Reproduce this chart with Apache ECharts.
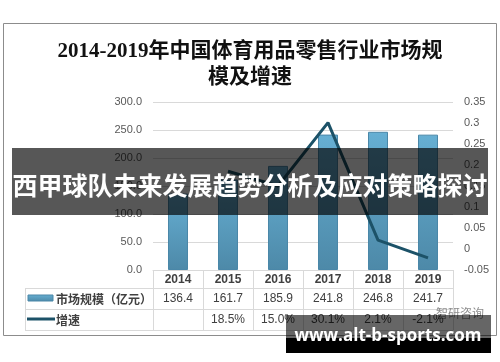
<!DOCTYPE html>
<html><head><meta charset="utf-8">
<script src="https://cdn.jsdelivr.net/npm/echarts@6/dist/echarts.min.js"></script>
<style>html,body{margin:0;padding:0;background:#fff}#c{width:500px;height:362px}</style>
</head><body><div id="c"></div>
<script>
const years = ['2014','2015','2016','2017','2018','2019'];
const marketSize = [136.4, 161.7, 185.9, 241.8, 246.8, 241.7];
const growth = [null, 0.185, 0.150, 0.301, 0.021, -0.021];
const marketLabels = ['136.4','161.7','185.9','241.8','246.8','241.7'];
const growthLabels = ['', '18.5%', '15.0%', '30.1%', '2.1%', '-2.1%'];
const seriesNames = ['市场规模（亿元）', '增速'];
const titleText = '2014-2019年中国体育用品零售行业市场规\n模及增速';
const bannerText = '西甲球队未来发展趋势分析及应对策略探讨';
const watermarkText = 'www.alt-b-sports.com';

const chart = echarts.init(document.getElementById('c'), null, {renderer:'canvas'});
const tableAxisBase = {
  type:'category', position:'bottom', gridIndex:0,
  axisLine:{show:false}, axisTick:{show:false}, splitLine:{show:false},
  axisLabel:{margin:4, fontSize:12, color:'#404040', fontFamily:'Liberation Sans, Noto Sans CJK SC'}
};
const lineColor = '#1c5268';
const gl = '#d9d9d9';
chart.setOption({
  animation:false,
  title:{
    text:titleText, left:'center', top:34,
    textStyle:{fontSize:21, fontWeight:'bold', lineHeight:26, color:'#111',
      fontFamily:'Liberation Serif, Noto Sans CJK SC'}
  },
  grid:{left:153, right:47, top:102, bottom:92},
  xAxis:[
    {type:'category', data:years, position:'bottom',
      axisLine:{show:true, lineStyle:{color:gl}},
      axisTick:{show:true, length:60, inside:false, lineStyle:{color:gl}},
      axisLabel:{margin:4, fontSize:12, fontWeight:'bold', color:'#404040', fontFamily:'Liberation Sans, Noto Sans CJK SC'}},
    Object.assign({}, tableAxisBase, {data:marketLabels, offset:19}),
    Object.assign({}, tableAxisBase, {data:growthLabels, offset:40})
  ],
  yAxis:[
    {type:'value', min:0, max:300, interval:50,
      axisLine:{show:false}, axisTick:{show:false},
      splitLine:{lineStyle:{color:gl}},
      axisLabel:{margin:11, fontSize:11, color:'#595959', fontFamily:'Liberation Sans',
        formatter:v=>v.toFixed(1)}},
    {type:'value', min:-0.05, max:0.35, interval:0.05,
      axisLine:{show:false}, axisTick:{show:false}, splitLine:{show:false},
      axisLabel:{margin:11, fontSize:11, color:'#595959', fontFamily:'Liberation Sans',
        formatter:v=>String(Number(v.toFixed(2)))}}
  ],
  series:[
    {name:seriesNames[0], type:'bar', data:marketSize, barWidth:20, yAxisIndex:0, xAxisIndex:0,
      itemStyle:{color:new echarts.graphic.LinearGradient(0,0,0,1,[
        {offset:0,color:'#66afd3'},{offset:1,color:'#4d89a8'}]),
        borderColor:'#4a87a8', borderWidth:1}},
    {name:seriesNames[1], type:'line', data:growth, yAxisIndex:1, xAxisIndex:0,
      symbol:'none', lineStyle:{color:lineColor, width:3}, z:3}
  ],
  graphic:[
    {type:'rect', shape:{x:3.5,y:23.5,width:493,height:312}, style:{fill:'none', stroke:'#8c8c8c', lineWidth:1}, z:-1},
    {type:'line', shape:{x1:25,y1:288.5,x2:453,y2:288.5}, style:{stroke:gl, lineWidth:1}},
    {type:'line', shape:{x1:25,y1:309.5,x2:453,y2:309.5}, style:{stroke:gl, lineWidth:1}},
    {type:'line', shape:{x1:25,y1:330.5,x2:453,y2:330.5}, style:{stroke:gl, lineWidth:1}},
    {type:'line', shape:{x1:25.5,y1:288,x2:25.5,y2:330}, style:{stroke:gl, lineWidth:1}},
    {type:'rect', shape:{x:28,y:295,width:25,height:6},
      style:{fill:new echarts.graphic.LinearGradient(0,0,0,1,[{offset:0,color:'#66afd3'},{offset:1,color:'#4d89a8'}]), stroke:'#4a87a8', lineWidth:1}},
    {type:'text', x:56, y:299, style:{text:seriesNames[0], fontSize:12, fontWeight:'bold', fill:'#404040', verticalAlign:'middle', fontFamily:'Noto Sans CJK SC'}},
    {type:'line', shape:{x1:27,y1:319,x2:55,y2:319}, style:{stroke:lineColor, lineWidth:3}},
    {type:'text', x:56, y:320, style:{text:seriesNames[1], fontSize:12, fontWeight:'bold', fill:'#404040', verticalAlign:'middle', fontFamily:'Noto Sans CJK SC'}},
    {type:'text', x:436, y:313, style:{text:'智研咨询', fontSize:12, fill:'#8c8c8c', verticalAlign:'middle', fontFamily:'Noto Sans CJK SC'}},
    {type:'rect', shape:{x:12,y:148,width:476,height:67}, style:{fill:'rgba(0,0,0,0.66)'}, z:100},
    {type:'text', x:250, y:185, z:101, style:{text:bannerText, fontSize:25, fontWeight:'bold', fill:'#fff', align:'center', verticalAlign:'middle', fontFamily:'Noto Sans CJK SC'}},
    {type:'rect', shape:{x:286,y:315,width:205,height:23}, style:{fill:'rgba(0,0,0,0.6)'}, z:100},
    {type:'rect', shape:{x:286,y:338,width:205,height:15}, style:{fill:'#000'}, z:100},
    {type:'text', x:388, y:336, z:101, style:{text:watermarkText, fontSize:17, fontWeight:'bold', fill:'#fff', align:'center', verticalAlign:'middle', fontFamily:'Open Sans, DejaVu Sans'}}
  ]
});
</script></body></html>
